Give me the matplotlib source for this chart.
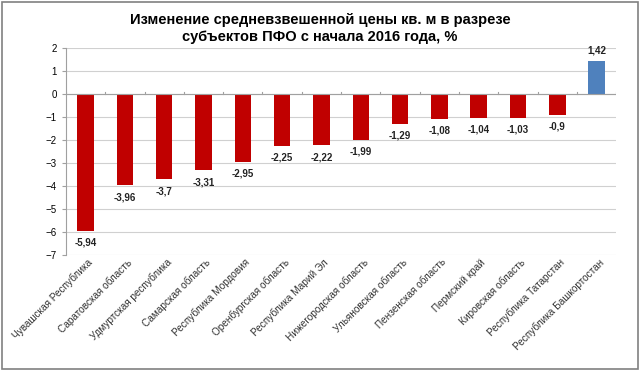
import numpy as np
import matplotlib.pyplot as plt

regions = ["Чувашская Республика", "Саратовская область", "Удмуртская республика",
           "Самарская область", "Республика Мордовия", "Оренбургская область",
           "Республика Марий Эл", "Нижегородская область", "Ульяновская область",
           "Пензенская область", "Пермский край", "Кировская область",
           "Республика Татарстан", "Республика Башкортостан"]
changes = [-5.94, -3.96, -3.7, -3.31, -2.95, -2.25, -2.22, -1.99, -1.29,
           -1.08, -1.04, -1.03, -0.9, 1.42]
labels = ["-5,94", "-3,96", "-3,7", "-3,31", "-2,95", "-2,25", "-2,22", "-1,99",
          "-1,29", "-1,08", "-1,04", "-1,03", "-0,9", "1,42"]

plt.rcParams['font.family'] = ['Liberation Sans', 'DejaVu Sans']

fig = plt.figure(figsize=(6.4, 3.7), dpi=100)
ax = fig.add_axes([0.103, 0.311, 0.86, 0.559])

x = np.arange(len(regions))
colors = ['#C00000' if v < 0 else '#4F81BD' for v in changes]
ax.bar(x, changes, width=0.42, color=colors, zorder=3)

for xi, v, lab in zip(x, changes, labels):
    off = -5 if v < 0 else 4
    ax.annotate(lab, (xi, v), xytext=(0, off), textcoords='offset points',
                ha='center', va='top' if v < 0 else 'bottom',
                fontsize=7, fontweight='bold', color='#222222')

ax.set_ylim(-7, 2)
ax.set_xlim(-0.5, len(regions) - 0.5)
ax.set_yticks(range(-7, 3))
ax.grid(axis='y', color='#d0d0d0', linewidth=0.8, zorder=0)
for s in ['top', 'right', 'bottom']:
    ax.spines[s].set_visible(False)
ax.spines['left'].set_color('#a0a0a0')
ax.axhline(0, color='#a0a0a0', linewidth=0.8, zorder=4)
for b in np.arange(-0.5, len(regions), 1.0):
    ax.plot([b, b], [0, 0.1], color='#a0a0a0', linewidth=0.8, zorder=4)
ax.tick_params(axis='y', labelsize=7, length=3, color='#a0a0a0')
ax.tick_params(axis='x', length=0)
ax.set_xticks(x)
ax.set_xticklabels([])
for xi, name in zip(x, regions):
    ax.text(xi + 0.05, -7.1, name, rotation=45, ha='right', va='top',
            rotation_mode='anchor', fontsize=7.2, color='#333333')

fig.suptitle("Изменение средневзвешенной цены кв. м в разрезе\nсубъектов ПФО с начала 2016 года, %",
             x=0.5, y=0.966, fontsize=10.5, fontweight='bold', linespacing=1.35)

fig.patches.append(plt.Rectangle((0.003, 0.004), 0.994, 0.99, transform=fig.transFigure,
                                 fill=False, edgecolor='#808080', linewidth=1.2))

fig.savefig('out.png', dpi=100)
